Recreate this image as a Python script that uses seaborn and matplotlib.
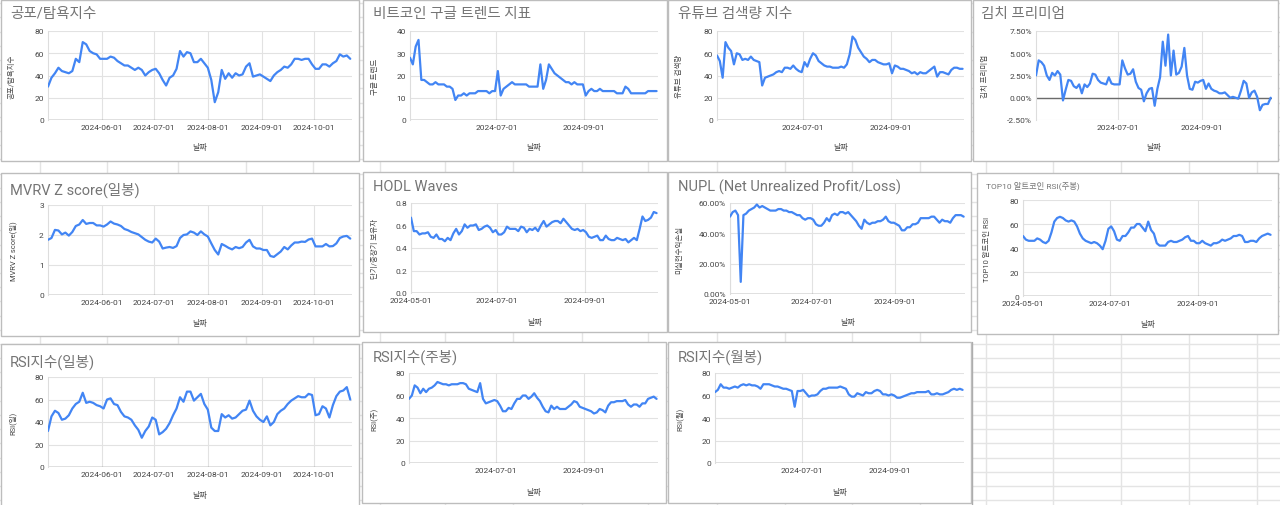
import pandas as pd
import matplotlib.pyplot as plt
import seaborn as sns
from matplotlib.lines import Line2D
from matplotlib.patches import Rectangle

sns.set_theme(style='white')
plt.rcParams['font.family'] = ['Roboto', 'Noto Sans CJK KR', 'DejaVu Sans']
plt.rcParams['axes.unicode_minus'] = False

# every second day from 2024-05-01 to 2024-10-22
dates = pd.date_range('2024-05-01', periods=88, freq='2D')

fear_greed = [30, 38, 42, 47, 44, 43, 42, 44, 55, 52,
              70, 68, 62, 60, 59, 55, 55, 55, 57, 56,
              53, 51, 49, 49, 47, 45, 47, 45, 40, 43,
              45, 46, 42, 36, 31, 38, 40, 46, 62, 57,
              61, 60, 52, 52, 55, 51, 47, 36, 16, 25,
              45, 37, 42, 38, 42, 40, 41, 48, 51, 39,
              40, 41, 39, 37, 35, 40, 43, 45, 48, 47,
              50, 55, 55, 54, 55, 55, 50, 46, 46, 50,
              50, 48, 51, 53, 59, 57, 58, 55]

google_trend = [28, 25, 33, 36, 18, 18, 17, 16, 16, 17,
                16, 16, 16, 15, 15, 14, 9, 11, 11, 12,
                11, 12, 12, 12, 13, 13, 13, 13, 12, 13,
                13, 22, 11, 14, 15, 16, 17, 16, 16, 16,
                16, 16, 15, 15, 15, 15, 25, 14, 18, 25,
                23, 21, 20, 19, 18, 17, 17, 16, 17, 16,
                16, 16, 11, 13, 14, 13, 13, 14, 13, 13,
                13, 13, 13, 12, 12, 12, 15, 14, 12, 12,
                12, 12, 12, 12, 13, 13, 13, 13]

youtube = [58, 53, 38, 70, 65, 62, 50, 60, 59, 54,
           55, 54, 57, 54, 53, 52, 31, 38, 39, 40,
           41, 43, 44, 43, 47, 47, 46, 49, 46, 44,
           43, 52, 48, 55, 60, 58, 53, 51, 49, 48,
           48, 47, 47, 47, 48, 47, 50, 59, 75, 72,
           65, 61, 57, 55, 52, 54, 54, 52, 51, 50,
           50, 51, 42, 49, 48, 46, 46, 45, 44, 42,
           43, 41, 43, 42, 42, 44, 46, 48, 39, 43,
           43, 42, 41, 45, 47, 47, 46, 46]

kimchi = [2.5, 4.2, 4.0, 3.6, 2.5, 2.0, 2.8, 2.5, 3.0, 2.6,
          -0.3, 0.9, 2.0, 1.9, 1.3, 1.1, 1.5, 0.5, 1.5, 1.2,
          1.6, 2.7, 2.6, 2.0, 1.7, 1.6, 1.5, 2.3, 1.6, 1.5,
          1.5, 1.5, 4.2, 3.3, 2.6, 2.7, 3.2, 1.8, 1.1, 0.9,
          -0.4, 0.5, 1.0, 1.1, -0.9, 1.0, 2.3, 6.3, 3.6, 7.1,
          2.5, 5.3, 2.6, 2.8, 3.5, 5.6, 2.5, 1.0, 0.9, 1.8,
          1.7, 1.9, 2.0, 1.0, 1.6, 1.0, 0.8, 0.7, 0.5, 0.5,
          0.6, 0.3, 0.0, 0.1, 0.0, -0.1, 0.8, 1.9, 1.6, 0.0,
          0.6, 0.8, 0.1, -1.4, -0.8, -0.7, -0.7, 0.0]

mvrv = [1.84, 1.9, 2.17, 2.15, 2.02, 2.08, 1.98, 2.1, 2.3, 2.35,
        2.5, 2.37, 2.4, 2.4, 2.32, 2.32, 2.28, 2.35, 2.45, 2.38,
        2.35, 2.3, 2.2, 2.16, 2.1, 2.06, 2.02, 1.93, 1.84, 1.78,
        1.75, 1.88, 1.78, 1.55, 1.58, 1.6, 1.57, 1.63, 1.9, 2.0,
        2.02, 2.12, 2.08, 2.0, 2.12, 2.02, 1.95, 1.72, 1.5, 1.35,
        1.7, 1.64, 1.57, 1.52, 1.6, 1.56, 1.6, 1.75, 1.84, 1.62,
        1.55, 1.55, 1.5, 1.5, 1.3, 1.27, 1.36, 1.45, 1.6, 1.52,
        1.65, 1.75, 1.75, 1.78, 1.77, 1.85, 1.88, 1.62, 1.62, 1.62,
        1.7, 1.62, 1.63, 1.72, 1.9, 1.95, 1.97, 1.88]

hodl = [0.67, 0.55, 0.55, 0.52, 0.53, 0.53, 0.54, 0.50, 0.49, 0.52,
        0.48, 0.48, 0.46, 0.49, 0.47, 0.53, 0.57, 0.52, 0.55, 0.61,
        0.58, 0.60, 0.60, 0.61, 0.56, 0.57, 0.59, 0.60, 0.58, 0.54,
        0.56, 0.52, 0.52, 0.54, 0.59, 0.57, 0.57, 0.57, 0.55, 0.59,
        0.58, 0.54, 0.57, 0.56, 0.58, 0.55, 0.60, 0.64, 0.59, 0.61,
        0.63, 0.64, 0.64, 0.62, 0.66, 0.63, 0.60, 0.57, 0.56, 0.57,
        0.55, 0.56, 0.54, 0.50, 0.49, 0.50, 0.51, 0.47, 0.47, 0.51,
        0.48, 0.47, 0.47, 0.49, 0.48, 0.47, 0.48, 0.45, 0.47, 0.49,
        0.47, 0.57, 0.68, 0.64, 0.65, 0.67, 0.72, 0.71]

nupl = [51, 54, 55, 52, 8, 52, 53, 55, 56, 57,
        59, 57, 58, 57, 56, 55, 55, 55, 56, 56,
        55, 55, 54, 54, 53, 52, 52, 50, 49, 50,
        50, 49, 46, 45, 45, 47, 50, 48, 52, 53,
        52, 54, 54, 53, 54, 52, 50, 48, 45, 43,
        49, 47, 46, 47, 47, 48, 48, 49, 51, 48,
        47, 47, 46, 45, 42, 42, 44, 44, 46, 46,
        47, 50, 50, 50, 50, 51, 51, 49, 47, 49,
        48, 48, 47, 50, 52, 52, 52, 51]

alt_rsi = [50, 47, 46, 46, 46, 48, 47, 45, 44, 46,
           53, 62, 65, 66, 65, 63, 62, 63, 62, 58,
           52, 48, 46, 45, 44, 45, 44, 42, 39, 46,
           56, 58, 54, 47, 46, 50, 50, 53, 57, 57,
           60, 60, 57, 54, 62, 55, 52, 44, 42, 42,
           42, 45, 46, 45, 45, 46, 47, 49, 50, 46,
           46, 44, 44, 46, 44, 43, 42, 44, 44, 45,
           47, 46, 47, 48, 50, 50, 51, 50, 45, 45,
           46, 46, 45, 48, 50, 51, 52, 51]

rsi_day = [32, 45, 50, 48, 42, 43, 46, 52, 56, 58,
           66, 57, 58, 57, 55, 54, 52, 60, 61, 56,
           55, 49, 45, 44, 42, 37, 33, 26, 32, 36,
           44, 42, 29, 31, 34, 39, 46, 52, 62, 58,
           67, 67, 59, 62, 65, 56, 51, 35, 32, 32,
           47, 44, 46, 43, 44, 47, 50, 51, 59, 50,
           45, 42, 40, 45, 37, 40, 47, 50, 52, 56,
           59, 61, 63, 62, 62, 65, 64, 46, 47, 54,
           52, 44, 55, 63, 67, 68, 71, 60]

rsi_week = [57, 60, 69, 67, 62, 66, 63, 66, 67, 69,
            72, 71, 70, 70, 69, 70, 70, 70, 71, 71,
            70, 66, 65, 64, 63, 71, 57, 53, 54, 55,
            56, 55, 51, 46, 46, 49, 48, 53, 57, 57,
            60, 60, 57, 59, 62, 58, 55, 50, 46, 45,
            51, 48, 50, 48, 48, 48, 50, 52, 55, 54,
            50, 49, 48, 47, 46, 44, 45, 48, 47, 45,
            51, 54, 54, 55, 55, 55, 56, 52, 50, 52,
            52, 50, 53, 53, 57, 58, 59, 57]

rsi_month = [63, 65, 70, 67, 67, 66, 67, 68, 67, 69,
             70, 69, 70, 69, 69, 68, 66, 70, 70, 70,
             69, 68, 68, 67, 66, 66, 65, 64, 50, 64,
             64, 65, 62, 59, 60, 60, 61, 64, 66, 66,
             67, 67, 67, 67, 68, 67, 66, 61, 59, 59,
             62, 61, 60, 63, 62, 62, 64, 65, 64, 61,
             61, 60, 61, 60, 58, 58, 59, 60, 61, 62,
             62, 63, 63, 63, 63, 64, 61, 61, 62, 61,
             61, 62, 63, 65, 66, 65, 66, 65]

ticks_wide = ['2024-06-01', '2024-07-01', '2024-08-01', '2024-09-01', '2024-10-01']
ticks_narrow = ['2024-07-01', '2024-09-01']
ticks_start = ['2024-05-01', '2024-07-01', '2024-09-01']

W, H = 1280, 506
BLUE = '#4285F4'

fig = plt.figure(figsize=(12.8, 5.06), dpi=100)
fig.patch.set_facecolor('white')

# spreadsheet grid behind the chart cards
for k in range(-25, 12):
    yy = 345 + 14.2 * k
    if 0 <= yy <= H:
        fig.add_artist(Line2D([0, 1], [1 - yy / H] * 2, transform=fig.transFigure,
                              color='#e4e4e4', lw=1, zorder=-3))
for xx in [40, 107, 178, 246, 313, 380, 445, 513, 582, 648, 717, 785,
           852, 920, 986, 1053, 1121, 1189, 1257]:
    fig.add_artist(Line2D([xx / W] * 2, [0, 1], transform=fig.transFigure,
                          color='#e4e4e4', lw=1, zorder=-3))
fig.add_artist(Line2D([972 / W] * 2, [0, 1 - 343 / H], transform=fig.transFigure,
                      color='#aaaaaa', lw=1, zorder=-3))

panels = [
    dict(title='공포/탐욕지수', ylabel='공포/탐욕지수', y=fear_greed,
         card=(1, 1, 359, 162), plot=(48, 32, 352, 121), title_at=(10, 14, 10.5),
         ylab_x=12, xlab_y=147, yticks=[0, 20, 40, 60, 80], fmt='{:.0f}', xt=ticks_wide),
    dict(title='비트코인 구글 트렌드 지표', ylabel='구글 트렌드', y=google_trend,
         card=(363, 1, 667, 162), plot=(410, 32, 658, 121), title_at=(373, 14, 10.5),
         ylab_x=375, xlab_y=147, yticks=[0, 10, 20, 30, 40], fmt='{:.0f}', xt=ticks_narrow),
    dict(title='유튜브 검색량 지수', ylabel='유튜브 검색량', y=youtube,
         card=(668, 1, 971, 162), plot=(717, 32, 964, 121), title_at=(678, 14, 10.5),
         ylab_x=680, xlab_y=147, yticks=[0, 20, 40, 60, 80], fmt='{:.0f}', xt=ticks_narrow),
    dict(title='김치 프리미엄', ylabel='김치 프리미엄', y=kimchi,
         card=(973, 1, 1278, 162), plot=(1036, 32, 1272, 121), title_at=(981, 14, 10.5),
         ylab_x=985, xlab_y=147, yticks=[-2.5, 0, 2.5, 5, 7.5], fmt='{:.2f}%', xt=ticks_narrow),
    dict(title='MVRV Z score(일봉)', ylabel='MVRV Z score(일)', y=mvrv,
         card=(1, 174, 359, 337), plot=(48, 206, 352, 296), title_at=(10, 190, 10.5),
         ylab_x=13, xlab_y=323, yticks=[0, 1, 2, 3], fmt='{:.0f}', xt=ticks_wide),
    dict(title='HODL Waves', ylabel='단기/중장기 보유자', y=hodl,
         card=(363, 173, 667, 333), plot=(411, 204, 658, 294), title_at=(373, 187, 10.5),
         ylab_x=375, xlab_y=322, yticks=[0, 0.2, 0.4, 0.6, 0.8], fmt='{:.1f}', xt=ticks_start),
    dict(title='NUPL (Net Unrealized Profit/Loss)', ylabel='미실현수익손실', y=nupl,
         card=(668, 173, 971, 333), plot=(730, 204, 965, 295), title_at=(678, 187, 10.5),
         ylab_x=680, xlab_y=322, yticks=[0, 20, 40, 60], fmt='{:.2f}%', xt=ticks_start),
    dict(title='TOP10 알트코인 RSI(주봉)', ylabel='TOP10 알트코인 RSI', y=alt_rsi,
         card=(977, 174, 1278, 335), plot=(1023, 201, 1272, 297), title_at=(986, 186, 6),
         ylab_x=988, xlab_y=324, yticks=[0, 20, 40, 60, 80], fmt='{:.0f}', xt=ticks_start),
    dict(title='RSI지수(일봉)', ylabel='RSI(일)', y=rsi_day,
         card=(1, 345, 359, 510), plot=(48, 378, 352, 468), title_at=(10, 362, 10.5),
         ylab_x=13, xlab_y=495, yticks=[0, 20, 40, 60, 80], fmt='{:.0f}', xt=ticks_wide),
    dict(title='RSI지수(주봉)', ylabel='RSI(주)', y=rsi_week,
         card=(362, 343, 666, 504), plot=(409, 374, 658, 464), title_at=(373, 357, 10.5),
         ylab_x=375, xlab_y=492, yticks=[0, 20, 40, 60, 80], fmt='{:.0f}', xt=ticks_narrow),
    dict(title='RSI지수(월봉)', ylabel='RSI(월)', y=rsi_month,
         card=(668, 343, 971, 504), plot=(715, 374, 964, 464), title_at=(678, 357, 10.5),
         ylab_x=680, xlab_y=492, yticks=[0, 20, 40, 60, 80], fmt='{:.0f}', xt=ticks_narrow),
]

for p in panels:
    cl, ct, cr, cb = p['card']
    fig.add_artist(Rectangle((cl / W, 1 - cb / H), (cr - cl) / W, (cb - ct) / H,
                             transform=fig.transFigure, facecolor='white',
                             edgecolor='#bdbdbd', lw=1, zorder=-2))
    l, t, r, b = p['plot']
    ax = fig.add_axes([l / W, 1 - b / H, (r - l) / W, (b - t) / H])
    ax.set_facecolor('none')

    sns.lineplot(x=dates, y=p['y'], ax=ax, color=BLUE, linewidth=1.6, zorder=3)
    ax.axhline(0, color='#6b6b6b', lw=1, zorder=2)

    ax.set_xlim(pd.Timestamp('2024-05-01'), pd.Timestamp('2024-10-23'))
    ax.set_ylim(p['yticks'][0], p['yticks'][-1])
    ax.set_yticks(p['yticks'])
    ax.set_yticklabels([p['fmt'].format(v) for v in p['yticks']])
    ax.set_xticks(pd.to_datetime(p['xt']))
    ax.set_xticklabels(p['xt'])
    ax.grid(True, color='#e2e2e2', lw=0.8)
    ax.tick_params(length=0, labelsize=6, labelcolor='#444444', pad=3)
    for s in ['top', 'right', 'bottom']:
        ax.spines[s].set_visible(False)
    ax.spines['left'].set_color('#dddddd')
    ax.spines['left'].set_linewidth(0.8)

    ax.set_ylabel(p['ylabel'], fontsize=5.4, color='#444444')
    ax.yaxis.label.set_va('center')
    ax.yaxis.set_label_coords((p['ylab_x'] - l) / (r - l), 0.5)
    ax.set_xlabel('날짜', fontsize=5.8, color='#444444')
    ax.xaxis.label.set_va('center')
    ax.xaxis.set_label_coords(0.5, -(p['xlab_y'] - b) / (b - t))

    tx, ty, ts = p['title_at']
    fig.text(tx / W, 1 - ty / H, p['title'], ha='left', va='center',
             color='#757575', fontsize=ts)

fig.savefig('out.png', dpi=100, facecolor='white')
